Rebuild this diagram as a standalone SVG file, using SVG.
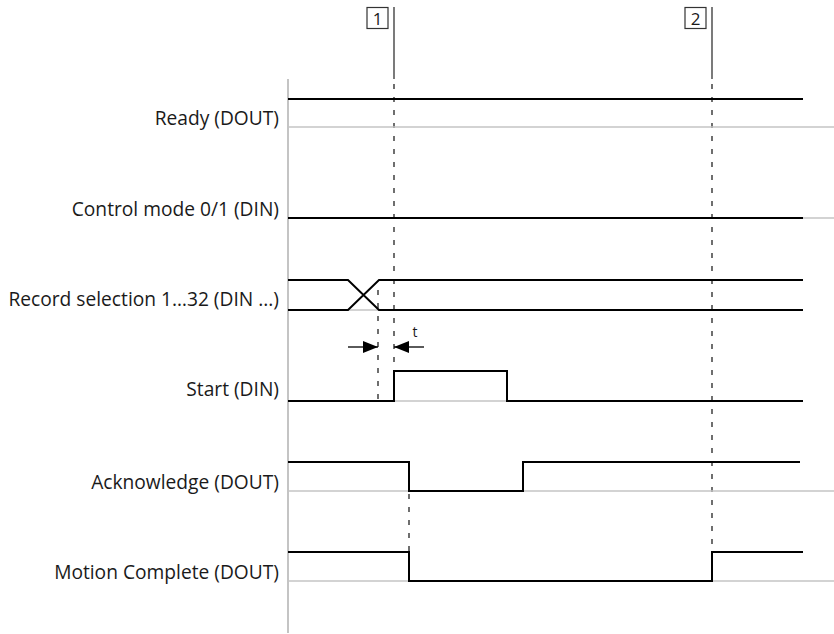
<svg xmlns="http://www.w3.org/2000/svg" width="834" height="634" viewBox="0 0 834 634">
<style>
.lbl{font-family:"Open Sans","Liberation Sans",sans-serif;font-size:19.2px;fill:#1a1a1a;text-anchor:end}
.sig{fill:none;stroke:#000;stroke-width:2}
.base{fill:none;stroke:#c4c4c4;stroke-width:1.5}
.dash{fill:none;stroke:#222;stroke-width:1.3;stroke-dasharray:5 8}
.mk{fill:none;stroke:#333;stroke-width:1.3}
.box{fill:#fff;stroke:#333;stroke-width:1.2}
.num{font-family:"Open Sans","Liberation Sans",sans-serif;font-size:17px;fill:#1a1a1a;text-anchor:middle}
</style>
<defs>
<marker id="ah" viewBox="0 0 15 12" refX="15" refY="6" markerWidth="15" markerHeight="12" markerUnits="userSpaceOnUse" orient="auto"><path d="M0,0 L15,6 L0,12 Z" fill="#000"/></marker>
</defs>
<g id="axis"><line x1="288" y1="79" x2="288" y2="633" stroke="#c4c4c4" stroke-width="2"/></g>
<g id="markers">
<g id="m1"><rect class="box" x="367" y="7.5" width="21" height="21"/><text class="num" x="377.5" y="24.5">1</text><line class="mk" x1="394" y1="7" x2="394" y2="79"/></g>
<g id="m2"><rect class="box" x="685" y="7.5" width="21" height="21"/><text class="num" x="695.5" y="24.5">2</text><line class="mk" x1="712" y1="7" x2="712" y2="79"/></g>
</g>
<g id="connectors">
<line class="dash" x1="394" y1="84" x2="394" y2="370"/>
<line class="dash" x1="378" y1="290" x2="378" y2="400"/>
<line class="dash" x1="409" y1="494" x2="409" y2="552"/>
<line class="dash" x1="712" y1="84" x2="712" y2="552"/>
<line x1="348" y1="347" x2="378" y2="347" stroke="#000" stroke-width="1.3" marker-end="url(#ah)"/>
<line x1="424" y1="347" x2="394" y2="347" stroke="#000" stroke-width="1.3" marker-end="url(#ah)"/>
<text x="415" y="337" class="num" style="font-size:14px">t</text>
</g>
<g id="ready"><text class="lbl" x="279" y="125">Ready (DOUT)</text><line class="base" x1="288" y1="127" x2="834" y2="127"/><line class="sig" x1="288" y1="99" x2="803" y2="99"/></g>
<g id="control"><text class="lbl" x="279" y="216">Control mode 0/1 (DIN)</text><line class="base" x1="288" y1="218" x2="834" y2="218"/><line class="sig" x1="288" y1="218" x2="803" y2="218"/></g>
<g id="record"><text class="lbl" x="279" y="306">Record selection 1…32 (DIN ...)</text><line class="base" x1="348" y1="310" x2="379" y2="310"/><path class="sig" d="M288,280 H348 L379,310 H803 M288,310 H348 L379,280 H803"/></g>
<g id="start"><text class="lbl" x="279" y="396">Start (DIN)</text><line class="base" x1="394" y1="401" x2="507" y2="401"/><path class="sig" d="M288,401 H394 V371 H507 V401 H803"/></g>
<g id="ack"><text class="lbl" x="279" y="489">Acknowledge (DOUT)</text><line class="base" x1="288" y1="491" x2="834" y2="491"/><path class="sig" d="M288,462 H409 V491 H523 V462 H800"/></g>
<g id="motion"><text class="lbl" x="279" y="579">Motion Complete (DOUT)</text><line class="base" x1="288" y1="581" x2="834" y2="581"/><path class="sig" d="M288,552 H409 V581 H712 V552 H803"/></g>
</svg>
